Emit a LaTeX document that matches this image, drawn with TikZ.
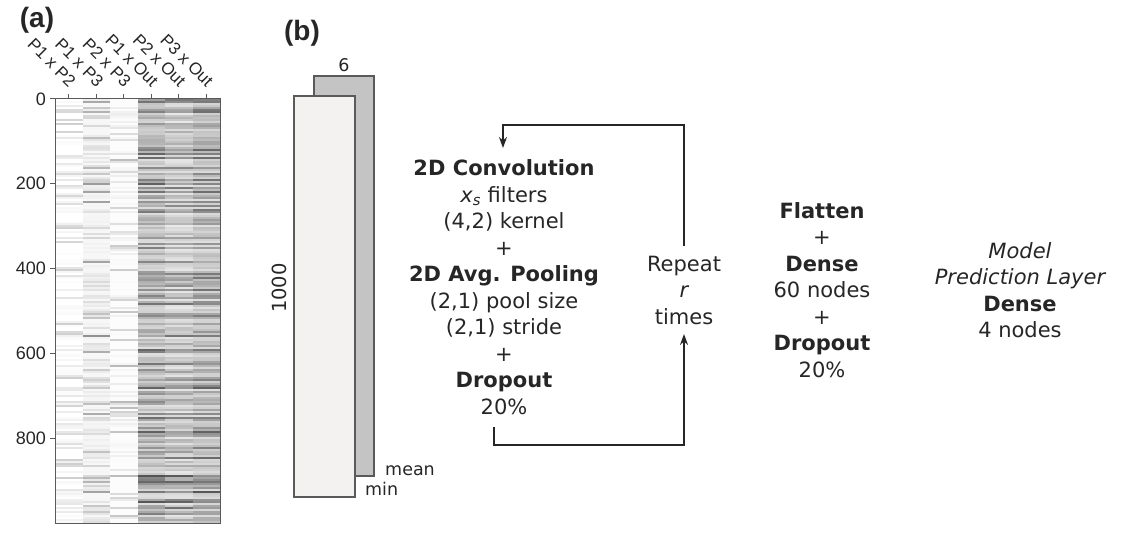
\documentclass[tikz,border=0pt]{standalone}
\usepackage{fontspec}
\setmainfont{DejaVu Sans}
\newfontfamily\arialf{Liberation Sans}
\usetikzlibrary{arrows.meta}
\definecolor{ink}{HTML}{262626}
\definecolor{frame}{HTML}{5A5A5A}
\definecolor{backbox}{HTML}{C4C4C4}
\definecolor{frontbox}{HTML}{F3F2F1}
\begin{document}
\begin{tikzpicture}[x=1pt,y=-1pt,
  txt/.style={text=ink, align=center, inner sep=0pt, font=\fontsize{21}{26.5}\selectfont},
  small/.style={text=ink, inner sep=0pt, font=\fontsize{17.5}{20}\selectfont},
  axlab/.style={text=ink, inner sep=0pt, font=\arialf\fontsize{18}{20}\selectfont},
  collab/.style={text=ink, inner sep=0pt, rotate=-45, anchor=east, font=\arialf\fontsize{17}{18}\selectfont},
  panel/.style={text=ink, inner sep=0pt, font=\arialf\bfseries\fontsize{28}{30}\selectfont},
  loop/.style={draw=ink, line width=1.8pt},
  arr/.style={loop, -{Stealth[length=11pt,width=8pt]}},
  tick/.style={draw=frame, line width=1pt}]
\useasboundingbox (0,0) rectangle (1140,540);
% ---------- panel labels
\node[panel] (pa) at (37,20) {(a)};
\node[panel] (pb) at (302,33) {(b)};
% ---------- heatmap
\pgfmathsetseed{7}
\foreach \i in {0,...,211}{
  \pgfmathsetmacro{\yy}{99+2*\i}
  \pgfmathsetmacro{\rf}{rnd}
  \pgfmathtruncatemacro{\ca}{20*rnd^4}
  \pgfmathtruncatemacro{\cb}{3+62*(0.5*\rf+0.5*rnd)^4}
  \pgfmathtruncatemacro{\cc}{1+28*rnd^6}
  \pgfmathtruncatemacro{\cd}{13+58*(0.7*\rf+0.3*rnd)^2}
  \pgfmathtruncatemacro{\ce}{9+58*(0.7*\rf+0.3*rnd)^2}
  \pgfmathtruncatemacro{\cf}{13+58*(0.7*\rf+0.3*rnd)^2}
  \fill[black!\ca] (55,\yy) rectangle (82.6,\yy+2.1);
  \fill[black!\cb] (82.5,\yy) rectangle (110.1,\yy+2.1);
  \fill[black!\cc] (110,\yy) rectangle (137.6,\yy+2.1);
  \fill[black!\cd] (137.5,\yy) rectangle (165.1,\yy+2.1);
  \fill[black!\ce] (165,\yy) rectangle (192.6,\yy+2.1);
  \fill[black!\cf] (192.5,\yy) rectangle (220,\yy+2.1);
}
\draw[tick, fill=none] (55,99) rectangle (220,523);
\foreach \c/\t [count=\k from 0] in {P1 x P2, P1 x P3, P2 x P3, P1 x Out, P2 x Out, P3 x Out}{
  \draw[tick] (68.75+27.5*\k,99) -- ++(0,-5);
  \node[collab] (col\k) at (73+27.5*\k,84) {\c};
}
\foreach \v [count=\k from 0] in {0,200,400,600,800}{
  \draw[tick] (55,99+0.424*\v) -- ++(-5,0);
  \node[axlab, anchor=east] (yl\k) at (46,99+0.424*\v) {\v};
}
% ---------- input tensor
\draw[draw=frame, line width=1.2pt, fill=backbox] (314,76) rectangle (374,476);
\draw[draw=frame, line width=1.2pt, fill=frontbox] (294,96) rectangle (355,497);
\node[small] (six) at (344,65) {6};
\node[small, rotate=90, font=\fontsize{19.5}{20}\selectfont] (thou) at (279,288) {1000};
\node[small, anchor=base west] (mean) at (385,475) {mean};
\node[small, anchor=base west] (min) at (365,495) {min};
% ---------- blocks
\node[txt] (b1) at (504,287) {\textbf{2D Convolution}\\ {\itshape x\textsubscript{s}} filters\\ (4,2) kernel\\ +\\ \textbf{2D Avg. Pooling}\\ (2,1) pool size\\ (2,1) stride\\ +\\ \textbf{Dropout}\\ 20\%};
\node[txt] (rep) at (684,290) {Repeat\\ {\itshape r}\\ times};
\node[txt] (b2) at (822,290) {\textbf{Flatten}\\ +\\ \textbf{Dense}\\ 60 nodes\\ +\\ \textbf{Dropout}\\ 20\%};
\node[txt] (b3) at (1020,290) {{\itshape Model}\\ {\itshape Prediction Layer}\\ \textbf{Dense}\\ 4 nodes};
% ---------- loop connectors
\coordinate (topR) at (684,125);
\coordinate (topL) at (503,125);
\coordinate (topTip) at (503,148);
\coordinate (repTop) at (684,246);
\coordinate (botStart) at (494,427);
\coordinate (botL) at (494,445);
\coordinate (botR) at (684,445);
\coordinate (repBot) at (684,334);
\draw[arr] (repTop) -- (topR) -- (topL) -- (topTip);
\draw[arr] (botStart) -- (botL) -- (botR) -- (repBot);
\end{tikzpicture}
\end{document}
